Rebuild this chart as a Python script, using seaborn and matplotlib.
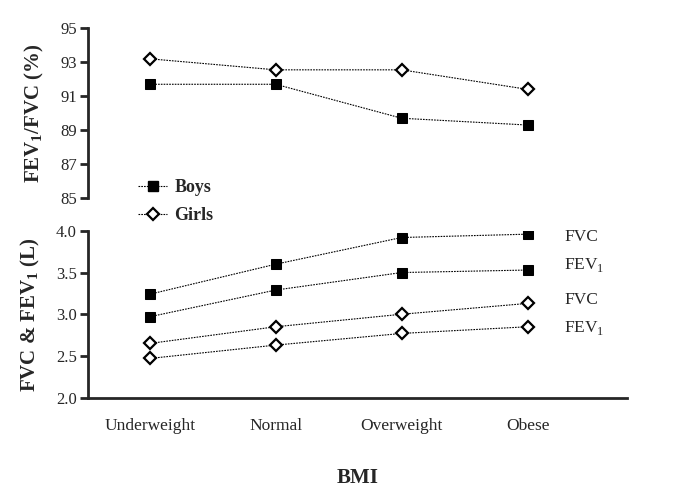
import matplotlib
matplotlib.use("Agg")
import matplotlib.pyplot as plt
from matplotlib.lines import Line2D
import seaborn as sns
import pandas as pd

# BMI categories
bmi = ["Underweight", "Normal", "Overweight", "Obese"]

# FEV1/FVC ratio (%)
ratio_boys = [91.7, 91.7, 89.7, 89.3]
ratio_girls = [93.2, 92.55, 92.55, 91.4]

# lung volumes (L)
fvc_boys = [3.24, 3.60, 3.92, 3.96]
fev1_boys = [2.97, 3.29, 3.50, 3.53]
fvc_girls = [2.65, 2.85, 3.00, 3.13]
fev1_girls = [2.47, 2.63, 2.77, 2.85]

sns.set_style("white")
plt.rcParams["font.family"] = ["Liberation Serif", "DejaVu Serif"]
plt.rcParams["mathtext.fontset"] = "custom"
plt.rcParams["mathtext.rm"] = "Liberation Serif"
plt.rcParams["mathtext.bf"] = "Liberation Serif:bold"

fig = plt.figure(figsize=(6.85, 5.04), dpi=100)
ax1 = fig.add_axes([0.1285, 0.607, 0.787, 0.337])
ax2 = fig.add_axes([0.1285, 0.211, 0.787, 0.331])

boys_style = dict(marker="s", markersize=7, markerfacecolor="black", markeredgecolor="black")
girls_style = dict(marker="D", markersize=6, markerfacecolor="white", markeredgecolor="black",
                   markeredgewidth=1.6)
line_kw = dict(color="black", linestyle=(0, (1.5, 1)), linewidth=0.8)

def draw(ax, vals, style):
    df = pd.DataFrame({"BMI": bmi, "val": vals})
    sns.lineplot(data=df, x="BMI", y="val", ax=ax, **line_kw, **style)

draw(ax1, ratio_boys, boys_style)
draw(ax1, ratio_girls, girls_style)
draw(ax2, fvc_boys, boys_style)
draw(ax2, fev1_boys, boys_style)
draw(ax2, fvc_girls, girls_style)
draw(ax2, fev1_girls, girls_style)

for ax in (ax1, ax2):
    ax.set_xlim(-0.49, 3.79)
    for s in ("top", "right"):
        ax.spines[s].set_visible(False)
    ax.spines["left"].set_linewidth(2)
    ax.tick_params(axis="y", direction="out", length=6, width=2, labelsize=12, pad=2, left=True)
    ax.set_xlabel("")

ax1.spines["bottom"].set_visible(False)
ax1.set_ylim(85, 95)
ax1.set_yticks([85, 87, 89, 91, 93, 95])
ax1.set_xticks([])
ax1.set_ylabel(r"FEV$_\mathbf{1}$/FVC (%)", fontsize=15, fontweight="bold", labelpad=10)

ax2.spines["bottom"].set_linewidth(2)
ax2.spines["bottom"].set_bounds(-0.49, 3.79)
ax2.set_ylim(2.0, 4.0)
ax2.set_yticks([2.0, 2.5, 3.0, 3.5, 4.0])
ax2.set_yticklabels(["2.0", "2.5", "3.0", "3.5", "4.0"])
ax2.set_xticks(range(len(bmi)))
ax2.set_xticklabels(bmi)
ax2.tick_params(axis="x", length=0, labelsize=12.5, pad=15)
ax2.set_ylabel(r"FVC & FEV$_\mathbf{1}$ (L)", fontsize=15, fontweight="bold", labelpad=10)
ax2.set_xlabel("BMI", fontsize=15, fontweight="bold", labelpad=24)

# series labels on the right
for v, txt in [(3.93, "FVC"), (3.59, r"FEV$_1$"), (3.17, "FVC"), (2.84, r"FEV$_1$")]:
    ax2.text(3.29, v, txt, fontsize=12.5, va="center", ha="left")

handles = [Line2D([], [], **line_kw, **boys_style), Line2D([], [], **line_kw, **girls_style)]
fig.legend(handles, ["Boys", "Girls"], loc="upper left", bbox_to_anchor=(0.178, 0.677),
           frameon=False, prop={"size": 13, "weight": "bold"}, handlelength=1.6,
           handletextpad=0.4, labelspacing=0.6)

fig.align_ylabels([ax1, ax2])
fig.savefig("out.png", dpi=100, facecolor="white")
